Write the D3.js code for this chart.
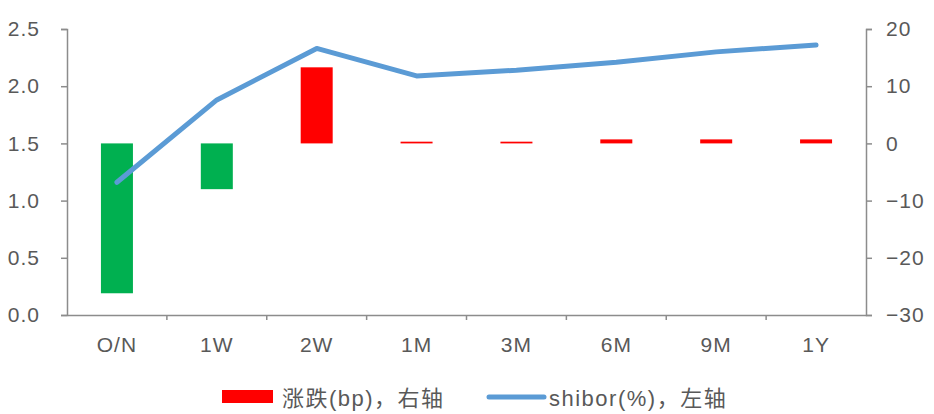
<!DOCTYPE html>
<html><head><meta charset="utf-8">
<script src="https://cdn.jsdelivr.net/npm/d3@7"></script>
<style>body{margin:0;background:#fff}svg{display:block}</style>
</head><body><svg id="c" width="934" height="414"></svg>
<script>
const categories = ["O/N","1W","2W","1M","3M","6M","9M","1Y"];
const changeBp = [-26.2,-8.0,13.3,0.3,0.3,0.7,0.7,0.7];
const shibor = [1.16,1.88,2.33,2.09,2.14,2.21,2.30,2.36];
const leftTicks = [0,0.5,1.0,1.5,2.0,2.5];
const rightTicks = [-30,-20,-10,0,10,20];
const legendLabels = ["涨跌(bp)，右轴","shibor(%)，左轴"];

const svg = d3.select("#c");
const L=67,R=866,T=29,B=315;
const font = "'Liberation Sans', Arial, 'Noto Sans CJK SC', sans-serif";
const axisColor = "#8c8c8c", textColor="#595959";
const x = d3.scaleBand().domain(categories).range([L,R]).paddingInner(0).paddingOuter(0);
const yL = d3.scaleLinear().domain([0,2.5]).range([B,T]);
const yR = d3.scaleLinear().domain([-30,20]).range([B,T]);
const bw = 32;

// bars
svg.append("g").selectAll("rect").data(categories).join("rect")
  .attr("x",d=>x(d)+x.bandwidth()/2-bw/2)
  .attr("width",bw)
  .attr("y",(d,i)=>yR(Math.max(0,changeBp[i])))
  .attr("height",(d,i)=>Math.abs(yR(changeBp[i])-yR(0)))
  .attr("fill",(d,i)=>changeBp[i]<0?"#00b050":"#ff0000");

// line
const line = d3.line().x((d,i)=>x(categories[i])+x.bandwidth()/2).y(d=>yL(d));
svg.append("path").datum(shibor).attr("d",line).attr("fill","none")
  .attr("stroke","#5b9bd5").attr("stroke-width",5).attr("stroke-linejoin","round").attr("stroke-linecap","round");

// axes
function style(g){
  g.selectAll("path,line").attr("stroke",axisColor).attr("stroke-width",1.5);
  g.selectAll("text").attr("fill",textColor).style("font-family",font).style("font-size","21px").style("letter-spacing","1px");
}
const gL = svg.append("g").attr("transform",`translate(${L},0)`)
  .call(d3.axisLeft(yL).tickValues(leftTicks).tickFormat(d3.format(".1f")).tickSize(6).tickSizeOuter(6).tickPadding(21));
style(gL);
const gR = svg.append("g").attr("transform",`translate(${R},0)`)
  .call(d3.axisRight(yR).tickValues(rightTicks).tickFormat(d=>d<0?"\u2212"+Math.abs(d):d).tickSize(6).tickSizeOuter(6).tickPadding(14));
style(gR);
const gB = svg.append("g").attr("transform",`translate(0,${B})`)
  .call(d3.axisBottom(x).tickSize(0).tickSizeOuter(0).tickPadding(22));
style(gB);
// boundary ticks on category axis
svg.append("g").selectAll("line").data(categories.slice(1)).join("line")
  .attr("x1",d=>x(d)).attr("x2",d=>x(d)).attr("y1",B).attr("y2",B+5)
  .attr("stroke",axisColor).attr("stroke-width",1.5);

// legend
const lg = svg.append("g");
lg.append("rect").attr("x",222).attr("y",390).attr("width",51).attr("height",13).attr("fill","#ff0000");
lg.append("text").attr("x",282).attr("y",406).text(legendLabels[0])
  .attr("fill",textColor).style("font-family",font).style("font-size","22px").style("letter-spacing","1.5px");
lg.append("line").attr("x1",489).attr("x2",544).attr("y1",397).attr("y2",397)
  .attr("stroke","#5b9bd5").attr("stroke-width",5).attr("stroke-linecap","round");
lg.append("text").attr("x",549).attr("y",406).text(legendLabels[1])
  .attr("fill",textColor).style("font-family",font).style("font-size","22px").style("letter-spacing","1.5px");
</script></body></html>
